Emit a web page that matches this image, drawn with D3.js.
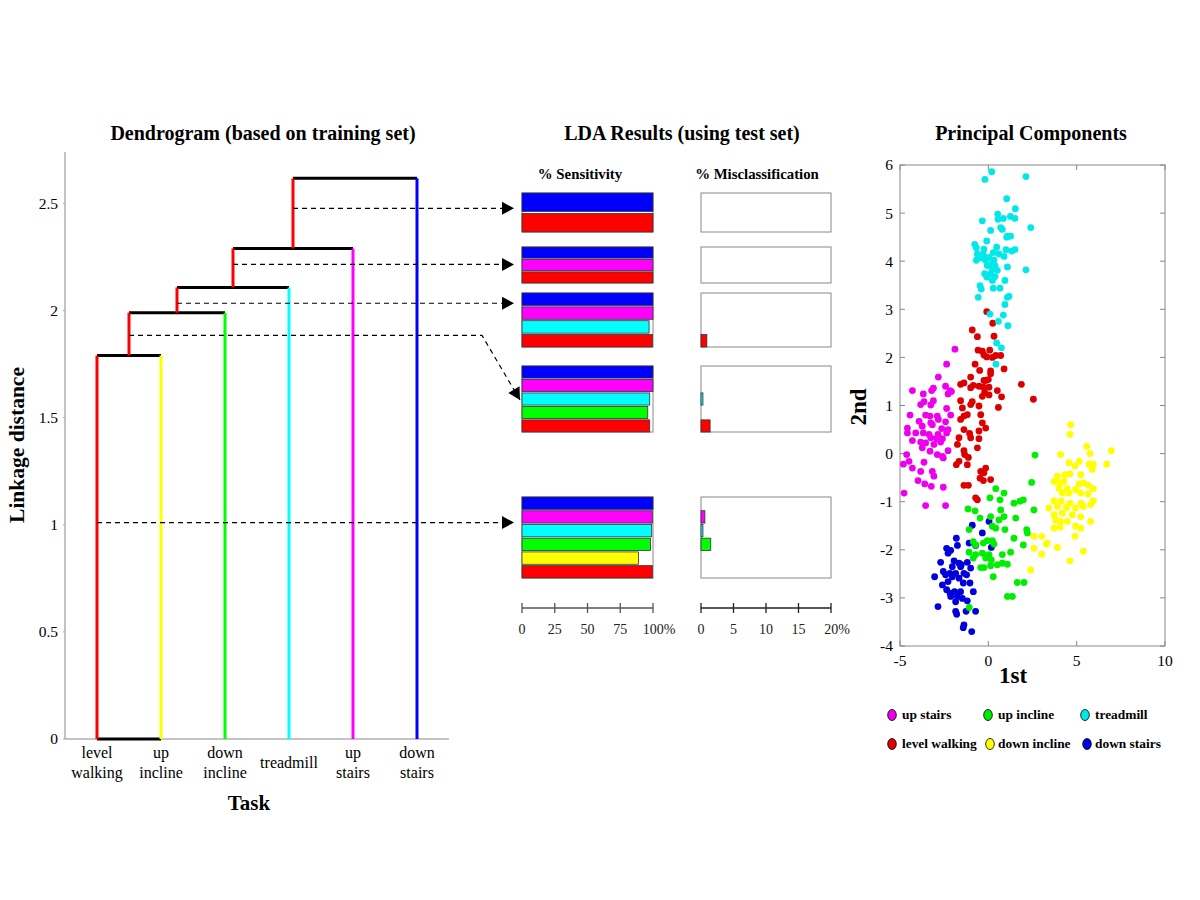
<!DOCTYPE html>
<html><head><meta charset="utf-8">
<script src="https://cdn.jsdelivr.net/npm/d3@7"></script>
<style>body{margin:0;background:#fff} svg{font-family:"Liberation Serif","Times New Roman",serif}</style>
</head><body><svg id="c" width="1200" height="900"></svg>
<script>
// ---------------- DATA ----------------
const leaves = ["level walking","up incline","down incline","treadmill","up stairs","down stairs"];
const leafLabels = [["level","walking"],["up","incline"],["down","incline"],["treadmill"],["up","stairs"],["down","stairs"]];
const leafColors = ["#ff0000","#ffff00","#00ff00","#00ffff","#ff00ff","#0000ff"];
const mergeHeights = [1.79, 1.99, 2.108, 2.29, 2.617];
const cutHeights = [2.477, 2.215, 2.034, 1.884, 1.01];
const yTicksDendro = [0, 0.5, 1, 1.5, 2, 2.5];

const sensTicks = [0, 25, 50, 75, 100];
const sensTickLabels = ["0","25","50","75","100%"];
const misTicks = [0, 5, 10, 15, 20];
const misTickLabels = ["0","5","10","15","20%"];
const panelColors = [
  ["#0000ff","#ff0000"],
  ["#0000ff","#ff00ff","#ff0000"],
  ["#0000ff","#ff00ff","#00ffff","#ff0000"],
  ["#0000ff","#ff00ff","#00ffff","#00ff00","#ff0000"],
  ["#0000ff","#ff00ff","#00ffff","#00ff00","#ffff00","#ff0000"]
];
const sensValues = [
  [100,100],
  [100,100,100],
  [100,100,97,99.5],
  [100,100,97.5,96,97.5],
  [100,99.5,99,98,89,99.5]
];
const misValues = [
  [0,0],
  [0,0,0],
  [0,0,0,0.9],
  [0,0,0.3,0,1.4],
  [0,0.6,0.3,1.5,0,0]
];

const upStairs = [[-1.89,2.17],[-2.36,1.86],[-2.83,1.59],[-2.42,1.40],[-4.30,1.31],[-3.68,1.24],[-3.21,1.31],[-3.11,1.36],[-2.17,1.31],[-2.28,1.24],[-2.09,1.29],[-3.83,1.02],[-3.64,1.08],[-3.11,1.10],[-2.36,0.94],
  [-3.26,1.01],[-4.43,0.80],[-3.55,0.80],[-3.30,0.78],[-2.89,0.78],[-2.13,0.80],[-3.92,0.67],[-3.26,0.64],[-2.83,0.71],[-2.42,0.66],[-4.58,0.53],[-3.74,0.57],[-3.17,0.60],[-2.64,0.52],[-2.28,0.50],
  [-4.58,0.43],[-4.11,0.43],[-3.68,0.43],[-3.36,0.40],[-2.85,0.40],[-3.26,0.33],[-2.92,0.31],[-2.60,0.31],[-2.36,0.43],[-2.70,0.24],[-4.30,0.27],[-3.83,0.24],[-3.55,0.22],[-3.08,0.19],[-3.74,0.12],
  [-3.30,0.05],[-2.28,0.06],[-2.89,-0.02],[-2.60,-0.06],[-2.55,-0.09],[-4.62,-0.02],[-4.81,-0.22],[-4.49,-0.16],[-4.30,-0.30],[-3.64,-0.18],[-3.83,-0.37],[-3.17,-0.37],[-3.08,-0.47],[-3.98,-0.56],
  [-3.60,-0.63],[-3.23,-0.68],[-2.55,-0.70],[-4.77,-0.82],[-3.55,-1.08],[-2.42,-1.08]];
const levelWalking = [[-0.09,2.95],[0.25,2.71],[-0.91,2.57],[-0.62,2.43],[0.32,2.44],[-0.58,2.15],[-0.34,2.13],[0.08,2.15],[-0.25,2.05],[-0.09,2.01],[0.42,2.04],[0.70,2.04],[0.23,2.00],[-0.75,1.86],
  [0.89,1.76],[-0.49,1.73],[0.13,1.72],[0.13,1.66],[-1.00,1.59],[-0.15,1.52],[0,1.54],[-0.25,1.52],[-1.38,1.47],[-1.57,1.44],[-0.85,1.42],[1.87,1.44],[-0.53,1.40],[-0.28,1.38],[0.04,1.38],[-1.00,1.37],
  [0.51,1.31],[-0.21,1.27],[0.04,1.22],[-0.34,1.19],[0.75,1.18],[-1.57,1.10],[-0.91,1.08],[2.55,1.13],[-1.47,0.95],[-1.00,1.02],[-0.53,0.99],[0.57,0.96],[-1.19,0.81],[-1.38,0.78],[-1.57,0.71],
  [-0.43,0.81],[-0.34,0.64],[-0.53,0.47],[-0.15,0.53],[-1.38,0.50],[-1.06,0.42],[-1.66,0.33],[-1.00,0.33],[-0.53,0.31],[-1.75,0.19],[-1.38,0.06],[-0.62,0.12],[-1.34,-0.02],[-1.13,-0.08],[-1.66,-0.16],
  [-1.19,-0.23],[-1.81,-0.23],[-0.43,-0.37],[-0.15,-0.30],[-0.28,-0.56],[-0.47,-0.51],[0.13,-0.54],[-1.38,-0.66],[-1.13,-0.66],[-0.72,-0.92],[-0.62,-0.96],[-0.25,-0.40]];
const treadmill = [[0.19,5.86],[-0.19,5.70],[2.13,5.76],[1.04,5.30],[1.53,5.09],[0.53,4.98],[1.25,4.93],[1.51,4.89],[-0.34,4.84],[0.85,4.89],[0.55,4.87],[2.40,4.70],[0.13,4.64],[0.70,4.70],[0.79,4.66],
  [1.08,4.52],[1.26,4.52],[1.04,4.50],[-0.09,4.42],[-0.77,4.35],[0.47,4.29],[-0.68,4.28],[-0.25,4.25],[1.00,4.24],[1.51,4.24],[1.32,4.21],[-0.62,4.15],[-0.28,4.14],[0.28,4.18],[0.60,4.15],[0.89,4.10],
  [0.04,4.08],[-0.40,4.07],[-0.68,4.02],[-0.15,4.02],[0.32,4.02],[0.23,3.96],[-0.06,3.91],[1.08,3.88],[0.38,3.90],[0.23,3.84],[0.51,3.81],[0.13,3.74],[0.38,3.68],[0.23,3.60],[-0.09,3.67],[-0.21,3.74],
  [2.13,3.82],[-0.47,3.49],[-0.40,3.42],[0.28,3.44],[0.66,3.44],[0.94,3.60],[1.08,3.25],[1.17,3.27],[-0.57,3.25],[0.94,3.10],[0.85,2.88],[0.57,2.75],[1.11,2.66],[0.09,2.90],[0.47,2.30],[0.74,2.20],[0.43,1.86]];
const upIncline = [[2.64,-0.03],[0.42,-0.73],[0.89,-0.82],[2.45,-0.60],[0.09,-0.92],[0.66,-0.96],[1.45,-1.03],[1.98,-0.96],[1.79,-0.99],[-1.15,-1.15],[-0.75,-1.19],[0.70,-1.17],[2.58,-1.17],[-0.47,-1.34],
  [0.13,-1.31],[0.89,-1.31],[1.55,-1.34],[0.60,-1.38],[-1.09,-1.58],[0.23,-1.51],[0.42,-1.55],[0.94,-1.58],[2.17,-1.58],[2.21,-1.65],[-0.85,-1.83],[-0.72,-1.90],[-0.28,-1.86],[-0.06,-1.81],[0.23,-1.81],
  [0.32,-1.88],[1.45,-1.76],[1.98,-1.90],[-1.09,-2.05],[-0.72,-2.10],[-0.34,-2.07],[-0.15,-2.12],[0.04,-2.10],[0.79,-2.10],[1.26,-2.05],[-0.85,-2.17],[-0.15,-2.17],[0.17,-2.21],[-0.43,-2.37],[-0.25,-2.37],
  [0.13,-2.33],[0.51,-2.31],[0.79,-2.28],[1.08,-2.30],[0.28,-2.56],[1.64,-2.68],[2.02,-2.68],[1.08,-2.97],[1.36,-2.97],[-1.08,-3.20]];
const downIncline = [[4.66,0.60],[4.62,0.40],[5.57,0.15],[6.96,0.06],[4.09,-0.02],[5.75,0.00],[5.15,-0.16],[4.57,-0.19],[5.70,-0.22],[4.91,-0.26],[5.94,-0.22],[6.70,-0.22],[5.89,-0.33],[3.91,-0.47],
  [4.32,-0.44],[4.62,-0.42],[5.23,-0.44],[3.72,-0.58],[4.06,-0.61],[4.28,-0.58],[5.13,-0.63],[5.38,-0.61],[5.66,-0.66],[4.00,-0.72],[4.47,-0.73],[4.94,-0.75],[5.94,-0.73],[4.19,-0.82],[4.57,-0.82],
  [5.23,-0.82],[5.64,-0.84],[3.72,-0.98],[4.13,-0.99],[4.62,-1.03],[5.26,-1.03],[5.94,-0.98],[3.43,-1.13],[3.91,-1.10],[4.43,-1.12],[4.94,-1.13],[5.38,-1.10],[5.79,-1.06],[3.72,-1.27],[4.19,-1.24],
  [4.75,-1.27],[5.23,-1.31],[3.81,-1.38],[4.09,-1.41],[4.47,-1.41],[5.79,-1.41],[4.94,-1.51],[3.72,-1.55],[4.06,-1.53],[5.23,-1.55],[2.58,-1.72],[3.02,-1.72],[3.34,-1.86],[2.58,-1.97],[3.28,-1.88],
  [3.91,-1.95],[4.91,-1.72],[5.38,-2.03],[3.02,-2.09],[4.62,-2.23],[2.40,-2.42]];
const downStairs = [[0.04,-1.41],[-0.91,-1.49],[-0.34,-1.65],[-0.72,-1.91],[-1.09,-1.86],[0.17,-1.95],[-1.81,-1.76],[-2.36,-1.97],[-2.13,-2.01],[-2.28,-2.07],[-1.75,-1.91],[-2.70,-2.26],[-2.55,-2.45],
  [-3.04,-2.56],[-1.94,-2.23],[-1.66,-2.28],[-1.53,-2.31],[-1.19,-2.26],[-2.04,-2.35],[-1.57,-2.35],[-1.00,-2.38],[-2.42,-2.52],[-2.17,-2.49],[-1.85,-2.49],[-1.38,-2.49],[-1.23,-2.52],[-2.60,-2.73],
  [-2.04,-2.56],[-1.66,-2.59],[-2.28,-2.66],[-1.42,-2.69],[-1.04,-2.69],[-2.36,-2.83],[-2.17,-2.90],[-1.91,-2.87],[-1.57,-2.87],[-0.85,-2.87],[-2.13,-2.97],[-1.75,-2.97],[-1.47,-3.01],[-1.85,-3.08],
  [-1.19,-3.06],[-2.85,-3.18],[-1.85,-3.28],[-1.79,-3.34],[-1.26,-3.28],[-0.72,-3.28],[-1.38,-3.56],[-1.42,-3.62],[-0.94,-3.70]];
const pcaXTicks = [-5, 0, 5, 10];
const pcaYTicks = [-4,-3,-2,-1,0,1,2,3,4,5,6];
const legendNames = ["up stairs","up incline","treadmill","level walking","down incline","down stairs"];
const legendColors = ["#ee00ee","#00ee00","#00e8e8","#dd0000","#ffff00","#0000dd"];

// ---------------- DRAW ----------------
const svg = d3.select("#c");

// Titles
[["Dendrogram (based on training set)",263],["LDA Results (using test set)",682],["Principal Components",1031]].forEach(([t,x])=>{
  svg.append("text").attr("x",x).attr("y",140).attr("text-anchor","middle").attr("font-size",20).attr("font-weight","bold").text(t);
});

// ---- Dendrogram ----
const xD = d3.scaleBand().domain(leaves).range([65,449]);
const lx = l => xD(l) + xD.bandwidth()/2;
const yD = d3.scaleLinear().domain([0,2.74]).range([739,152]);
const gD = svg.append("g");
gD.append("line").attr("x1",65).attr("x2",65).attr("y1",yD(2.74)).attr("y2",yD(0)).attr("stroke","#888");
gD.append("line").attr("x1",65).attr("x2",449).attr("y1",yD(0)).attr("y2",yD(0)).attr("stroke","#888");
yTicksDendro.forEach(t=>{
  gD.append("line").attr("x1",63).attr("x2",65).attr("y1",yD(t)).attr("y2",yD(t)).attr("stroke","#aaa");
  gD.append("text").attr("x",58).attr("y",yD(t)).attr("dy","0.35em").attr("text-anchor","end").attr("font-size",15.5).text(t);
});
leafLabels.forEach((lines,i)=>{
  const x = lx(leaves[i]);
  lines.forEach((ln,j)=>{
    gD.append("text").attr("x",x).attr("y", lines.length===1 ? 768 : 758 + j*20).attr("text-anchor","middle").attr("font-size",16).text(ln);
  });
});
gD.append("text").attr("x",249).attr("y",810).attr("text-anchor","middle").attr("font-size",21).attr("font-weight","bold").text("Task");
gD.append("text").attr("transform","translate(24,445) rotate(-90)").attr("text-anchor","middle").attr("font-size",21.5).attr("font-weight","bold").text("Linkage distance");

// tree segments
const vSegs = [], hSegs = [];
let nodeX = lx(leaves[0]), nodeH = 0;
mergeHeights.forEach((h,i)=>{
  const x2 = lx(leaves[i+1]);
  vSegs.push({x:nodeX, h0:nodeH, h1:h, c:leafColors[0]});
  vSegs.push({x:x2, h0:0, h1:h, c:leafColors[i+1]});
  hSegs.push({x0:nodeX, x1:x2, h:h});
  nodeX = (nodeX + x2)/2; nodeH = h;
});
hSegs.push({x0:lx(leaves[0]), x1:lx(leaves[1]), h:0});
gD.selectAll(".h").data(hSegs).join("line")
  .attr("x1",d=>d.x0).attr("x2",d=>d.x1).attr("y1",d=>yD(d.h)).attr("y2",d=>yD(d.h))
  .attr("stroke","#000").attr("stroke-width",3);
gD.selectAll(".v").data(vSegs).join("line")
  .attr("x1",d=>d.x).attr("x2",d=>d.x).attr("y1",d=>yD(d.h0)).attr("y2",d=>yD(d.h1))
  .attr("stroke",d=>d.c).attr("stroke-width",3);

// dashed arrows
function arrowHead(tx,ty,ang){
  const L=12, W=6.5;
  const bx = tx - L*Math.cos(ang), by = ty - L*Math.sin(ang);
  const px = -Math.sin(ang)*W, py = Math.cos(ang)*W;
  svg.append("path").attr("d",`M${tx},${ty}L${bx+px},${by+py}L${bx-px},${by-py}Z`).attr("fill","#000");
}
cutHeights.forEach((c,k)=>{
  const seg = vSegs.find(s=>s.c===leafColors[0] && s.h0<=c && s.h1>=c);
  const x0 = seg.x, y = yD(c);
  if (k===3){
    const tx=520, ty=400;
    svg.append("path").attr("d",`M${x0},${y}L482,${y}L${tx},${ty}`).attr("fill","none")
      .attr("stroke","#000").attr("stroke-width",1.2).attr("stroke-dasharray","5,4");
    arrowHead(tx,ty,Math.atan2(ty-y,tx-482));
  } else {
    svg.append("line").attr("x1",x0).attr("x2",505).attr("y1",y).attr("y2",y)
      .attr("stroke","#000").attr("stroke-width",1.2).attr("stroke-dasharray","5,4");
    arrowHead(514,y,0);
  }
});

// ---- LDA ----
const panelBoxes = [[193,232],[247,283],[293,347],[366,432],[497,578]];
const xS = d3.scaleLinear().domain([0,100]).range([522,653]);
const xM = d3.scaleLinear().domain([0,20]).range([701,831]);
svg.append("text").attr("x",580).attr("y",179).attr("text-anchor","middle").attr("font-size",14.8).attr("font-weight","bold").text("% Sensitivity");
svg.append("text").attr("x",757).attr("y",179).attr("text-anchor","middle").attr("font-size",14.8).attr("font-weight","bold").text("% Misclassification");
panelBoxes.forEach(([t,b],p)=>{
  const yb = d3.scaleBand().domain(d3.range(sensValues[p].length)).range([t,b]).paddingInner(0.1);
  [[xS,sensValues[p],100],[xM,misValues[p],20]].forEach(([xs,vals,mx])=>{
    svg.append("rect").attr("x",xs(0)).attr("y",t).attr("width",xs(mx)-xs(0)).attr("height",b-t)
      .attr("fill","#fff").attr("stroke","#888").attr("stroke-width",1);
    svg.selectAll(null).data(vals).join("rect")
      .attr("x",xs(0)).attr("y",(d,i)=>yb(i)).attr("width",d=>xs(d)-xs(0)).attr("height",yb.bandwidth())
      .attr("fill",(d,i)=>panelColors[p][i]).attr("stroke","#333").attr("stroke-width",0.8);
  });
});
function ldaAxis(xs, ticks, labels, col){
  const y=608;
  svg.append("line").attr("x1",xs(ticks[0])).attr("x2",xs(ticks[ticks.length-1])).attr("y1",y).attr("y2",y).attr("stroke",col).attr("stroke-width",1.3);
  ticks.forEach((t,i)=>{
    svg.append("line").attr("x1",xs(t)).attr("x2",xs(t)).attr("y1",y-5).attr("y2",y+5).attr("stroke",col).attr("stroke-width",1.3);
    svg.append("text").attr("x",xs(t)+(i===ticks.length-1?6:0)).attr("y",634).attr("text-anchor","middle").attr("font-size",14).attr("fill","#222").text(labels[i]);
  });
}
ldaAxis(xS, sensTicks, sensTickLabels, "#555");
ldaAxis(xM, misTicks, misTickLabels, "#222");

// ---- PCA ----
const xP = d3.scaleLinear().domain([-5,10]).range([900,1165]);
const yP = d3.scaleLinear().domain([-4,6]).range([646,165]);
const gP = svg.append("g");
gP.append("rect").attr("x",900).attr("y",165).attr("width",265).attr("height",481).attr("fill","none").attr("stroke","#888");
pcaXTicks.forEach(t=>{
  gP.append("line").attr("x1",xP(t)).attr("x2",xP(t)).attr("y1",646).attr("y2",641).attr("stroke","#888");
  gP.append("line").attr("x1",xP(t)).attr("x2",xP(t)).attr("y1",165).attr("y2",170).attr("stroke","#888");
  gP.append("text").attr("x",xP(t)).attr("y",666).attr("text-anchor","middle").attr("font-size",15.5).text(t);
});
pcaYTicks.forEach(t=>{
  gP.append("line").attr("x1",900).attr("x2",905).attr("y1",yP(t)).attr("y2",yP(t)).attr("stroke","#888");
  gP.append("line").attr("x1",1165).attr("x2",1160).attr("y1",yP(t)).attr("y2",yP(t)).attr("stroke","#888");
  gP.append("text").attr("x",893).attr("y",yP(t)).attr("dy","0.35em").attr("text-anchor","end").attr("font-size",15.5).text(t);
});
gP.append("text").attr("x",1013).attr("y",683).attr("text-anchor","middle").attr("font-size",23).attr("font-weight","bold").text("1st");
gP.append("text").attr("transform","translate(866,407) rotate(-90)").attr("text-anchor","middle").attr("font-size",23).attr("font-weight","bold").text("2nd");
const series = [[upStairs,"#ee00ee"],[levelWalking,"#dd0000"],[treadmill,"#00e8e8"],[downIncline,"#ffff00"],[downStairs,"#0000dd"],[upIncline,"#00ee00"]];
series.forEach(([pts,col])=>{
  gP.selectAll(null).data(pts).join("circle")
    .attr("cx",d=>xP(d[0])).attr("cy",d=>yP(d[1])).attr("r",3.4).attr("fill",col);
});

// legend
const legCols = [[892,902],[988,998],[1085,1095]];
legendNames.forEach((n,i)=>{
  const r = Math.floor(i/3), c = i%3;
  const cy = 715 + r*29;
  svg.append("ellipse").attr("cx",legCols[c][0]+(r===1&&c>0?2:0)).attr("cy",cy).attr("rx",4.3).attr("ry",5.5)
    .attr("fill",legendColors[i]).attr("stroke","#000").attr("stroke-width",0.8);
  svg.append("text").attr("x",legCols[c][1]).attr("y",cy+4).attr("font-size",13.4).attr("font-weight","bold").text(n);
});
</script></body></html>
